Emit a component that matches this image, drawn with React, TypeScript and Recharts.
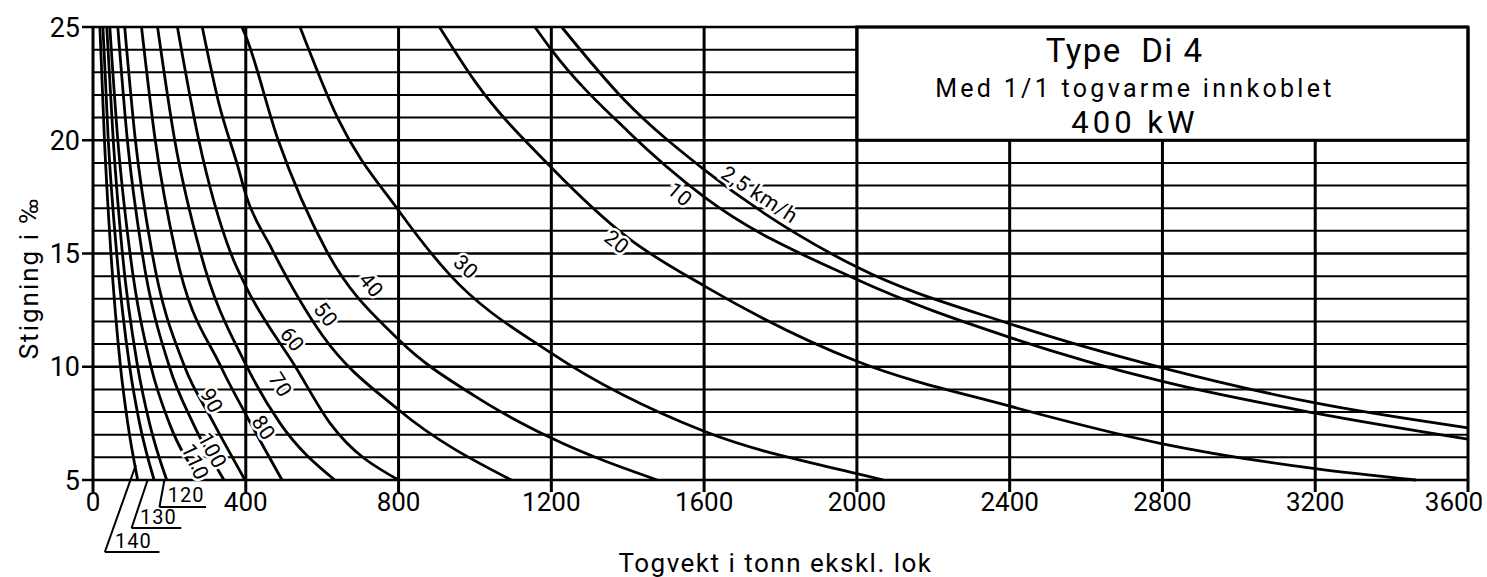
import React from "react";
import {
  LineChart,
  Line,
  XAxis,
  YAxis,
  ReferenceLine,
  ReferenceArea,
  ReferenceDot,
} from "recharts";

// train weight (t) vs gradient (‰) for each speed
const weightTicks = [0, 400, 800, 1200, 1600, 2000, 2400, 2800, 3200, 3600];
const gradeTicks = [5, 10, 15, 20, 25];

const v2_5 = [[1227, 25], [1390, 21.8], [1600, 18.7], [2000, 14.4], [2400, 11.9], [2800, 9.95], [3200, 8.4], [3600, 7.3]];
const v10 = [[1157, 25], [1200, 24.0], [1400, 20.4], [1600, 17.5], [2000, 13.85], [2400, 11.3], [2800, 9.35], [3200, 7.95], [3600, 6.8]];
const v20 = [[907, 25], [1000, 22.6], [1200, 18.8], [1400, 15.7], [1600, 13.57], [2000, 10.24], [2400, 8.26], [2800, 6.6], [3200, 5.5], [3464, 5]];
const v30 = [[542, 25], [640, 21], [800, 16.9], [932, 14.1], [1200, 10.6], [1600, 7.15], [2000, 5.28], [2070, 5]];
const v40 = [[390, 25], [400, 24.6], [485, 20], [612, 15.1], [800, 11.2], [1000, 8.7], [1200, 6.85], [1477, 5]];
const v50 = [[286, 25], [330, 21.6], [380, 18.8], [400, 17.6], [465, 15.3], [600, 11.4], [800, 8.1], [1095, 5]];
const v60 = [[221, 25], [277, 20], [361, 15], [400, 13.55], [530, 10], [621, 7.5], [800, 5]];
const v70 = [[169, 25], [214, 20], [282, 15], [400, 10.1], [490, 7.5], [633, 5]];
const v80 = [[127, 25], [163, 20], [217, 15], [335, 10], [400, 7.9], [495, 5]];
const v90 = [[83, 25], [111, 20], [155, 15], [240, 10], [310, 7.7], [398, 5]];
const v100 = [[65, 25], [90, 20], [129, 15], [200, 10], [262, 7.5], [343, 5]];
const v110 = [[44, 25], [65, 20], [97, 15], [152, 10], [200, 7.5], [283, 5]];
const v120 = [[36, 25], [53, 20], [77, 15], [117, 10], [148, 7.5], [193, 5]];
const v130 = [[26, 25], [40, 20], [62, 15], [96, 10], [122, 7.5], [160, 5]];
const v140 = [[18, 25], [30, 20], [47, 15], [72, 10], [91, 7.5], [117, 5]];

const curves = [v2_5, v10, v20, v30, v40, v50, v60, v70, v80, v90, v100, v110, v120, v130, v140];

// curve labels: text, anchor (t, ‰), rotation
const curveLabels = [
  { text: "2,5 km/h", w: 1745, i: 17.6, angle: 33 },
  { text: "10", w: 1536, i: 17.6, angle: 40 },
  { text: "20", w: 1371, i: 15.5, angle: 38 },
  { text: "30", w: 976, i: 14.4, angle: 42 },
  { text: "40", w: 728, i: 13.6, angle: 50 },
  { text: "50", w: 609, i: 12.3, angle: 52 },
  { text: "60", w: 521, i: 11.2, angle: 52 },
  { text: "70", w: 490, i: 9.2, angle: 58 },
  { text: "80", w: 446, i: 7.3, angle: 56 },
  { text: "90", w: 310, i: 8.5, angle: 62 },
  { text: "100", w: 312, i: 6.3, angle: 62 },
  { text: "110", w: 267, i: 5.8, angle: 65 },
];

// speeds whose label sits below the axis on a leader
const leaderLabels = [
  { text: "120", w: 244, i: 4.34, tip: [187, 5], knee: [174, 3.81], end: 296 },
  { text: "130", w: 171, i: 3.37, tip: [143, 5], knee: [101, 2.88], end: 231 },
  { text: "140", w: 106, i: 2.3, tip: [112, 5.66], knee: [31, 1.82], end: 174 },
];

const titleLines = [
  { text: "Type  Di 4", w: 2701, i: 23.95, size: 33, spacing: 1.5 },
  { text: "Med 1/1 togvarme innkoblet", w: 2728, i: 22.3, size: 25, spacing: 3.3 },
  { text: "400 kW", w: 2728, i: 20.8, size: 31, spacing: 4 },
];

const FONT = "Roboto, 'DejaVu Sans', sans-serif";
const W = 1487;
const H = 577;

const rotatedText = (text: string, angle: number, size: number, spacing = 0.5, halo = true) =>
  (props: any) => {
    const { x, y } = props.viewBox;
    return (
      <text
        x={x}
        y={y}
        transform={`rotate(${angle} ${x} ${y})`}
        textAnchor="middle"
        dominantBaseline="central"
        fontFamily={FONT}
        fontSize={size}
        letterSpacing={spacing}
        fill="#000"
        stroke={halo ? "#fff" : "none"}
        strokeWidth={halo ? 5 : 0}
        paintOrder="stroke"
        style={{ whiteSpace: "pre" }}
      >
        {text}
      </text>
    );
  };

// last label sits a bit inside the frame, as in the original
const WeightTick = (props: any) => {
  const { x, y, payload } = props;
  const shift = payload.value === 3600 ? -14 : 0;
  return (
    <text x={x + shift} y={y} dy="0.71em" textAnchor="middle" fontFamily={FONT} fontSize={26} fill="#000">
      {payload.value}
    </text>
  );
};

const hLines = Array.from({ length: 21 }, (_, k) => 5 + k);
const vLines = [0, 400, 800, 1200, 1600, 2000, 2400, 2800, 3200, 3600];

export default function App() {
  return (
    <div style={{ position: "absolute", left: 0, top: 0, width: W, height: H, background: "#fff" }}>
      <LineChart width={W} height={H} margin={{ top: 27, right: 19, bottom: 0, left: 0 }}>
        <XAxis
          type="number"
          dataKey="w"
          domain={[0, 3600]}
          ticks={weightTicks}
          interval={0}
          height={97}
          axisLine={false}
          tickSize={12}
          tickMargin={1}
          tickLine={{ stroke: "#000", strokeWidth: 3 }}
          tick={<WeightTick />}
          label={{
            content: (p: any) => (
              <text
                x={p.viewBox.x + p.viewBox.width / 2 - 5}
                y={p.viewBox.y + 83}
                textAnchor="middle"
                dominantBaseline="central"
                fontFamily={FONT}
                fontSize={26}
                letterSpacing={1.5}
                fill="#000"
              >
                Togvekt i tonn ekskl. lok
              </text>
            ),
          }}
        />
        <YAxis
          type="number"
          dataKey="i"
          domain={[5, 25]}
          ticks={gradeTicks}
          interval={0}
          width={93}
          axisLine={false}
          tickSize={11}
          tickMargin={2}
          tickLine={{ stroke: "#000", strokeWidth: 2.5 }}
          tick={{ fill: "#000", fontSize: 27, fontFamily: FONT }}
          label={{
            content: (p: any) => {
              const x = p.viewBox.x + 29;
              const y = p.viewBox.y + 251;
              return (
                <text
                  x={x}
                  y={y}
                  transform={`rotate(-90 ${x} ${y})`}
                  textAnchor="middle"
                  dominantBaseline="central"
                  fontFamily={FONT}
                  fontSize={26}
                  letterSpacing={2}
                  fill="#000"
                >
                  Stigning i ‰
                </text>
              );
            },
          }}
        />

        {/* grid */}
        {hLines.map((g) => (
          <ReferenceLine
            key={`h${g}`}
            segment={[{ x: 0, y: g }, { x: g > 20 && g < 25 ? 2000 : 3600, y: g }]}
            stroke="#000"
            strokeWidth={g % 5 === 0 ? 2.6 : 2}
          />
        ))}
        {vLines.map((g) => (
          <ReferenceLine
            key={`v${g}`}
            segment={[{ x: g, y: 5 }, { x: g, y: g > 2000 && g < 3600 ? 20 : 25 }]}
            stroke="#000"
            strokeWidth={3}
          />
        ))}

        <ReferenceArea x1={2000} x2={3600} y1={20} y2={25} fill="#fff" fillOpacity={1} stroke="#000" strokeWidth={3} />

        {curves.map((pts, k) => (
          <Line
            key={k}
            data={pts.map(([w, i]) => ({ w, i }))}
            dataKey="i"
            type="monotone"
            stroke="#000"
            strokeWidth={2.8}
            dot={false}
            activeDot={false}
            isAnimationActive={false}
          />
        ))}

        {curveLabels.map((l) => (
          <ReferenceDot key={l.text} x={l.w} y={l.i} r={0} fill="none" stroke="none" ifOverflow="visible"
            label={rotatedText(l.text, l.angle, 21)} />
        ))}

        {leaderLabels.map((l) => (
          <React.Fragment key={l.text}>
            <ReferenceLine segment={[{ x: l.tip[0], y: l.tip[1] }, { x: l.knee[0], y: l.knee[1] }]}
              stroke="#000" strokeWidth={2} ifOverflow="visible" />
            <ReferenceLine segment={[{ x: l.knee[0], y: l.knee[1] }, { x: l.end, y: l.knee[1] }]}
              stroke="#000" strokeWidth={2} ifOverflow="visible" />
            <ReferenceDot x={l.w} y={l.i} r={0} fill="none" stroke="none" ifOverflow="visible"
              label={rotatedText(l.text, 0, 20, 1, false)} />
          </React.Fragment>
        ))}

        {titleLines.map((t) => (
          <ReferenceDot key={t.text} x={t.w} y={t.i} r={0} fill="none" stroke="none" ifOverflow="visible"
            label={rotatedText(t.text, 0, t.size, t.spacing, false)} />
        ))}
      </LineChart>
    </div>
  );
}
